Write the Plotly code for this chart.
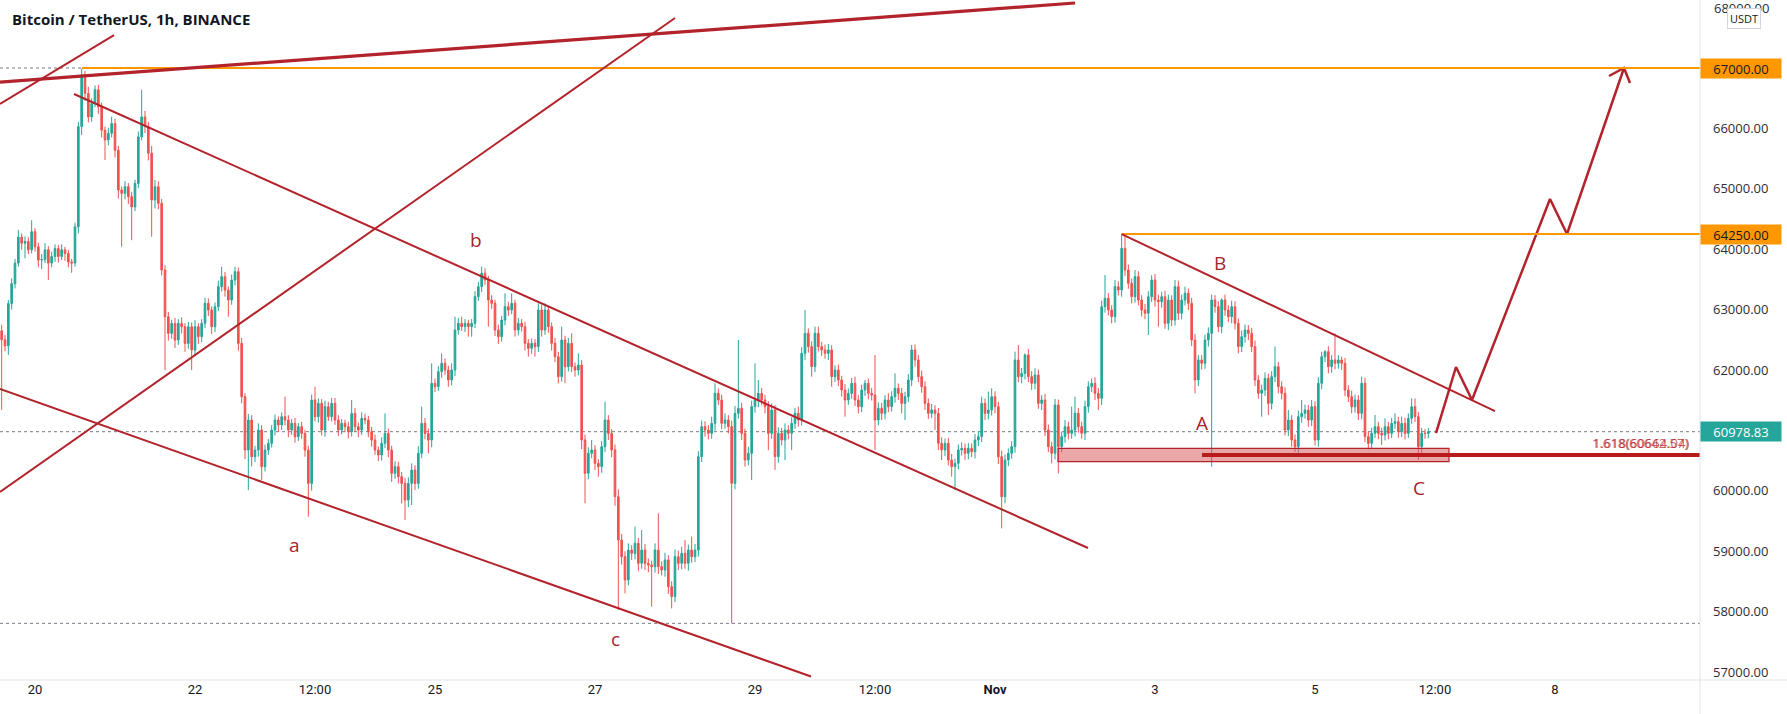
import pandas as pd
import plotly.graph_objects as go

# ---------------- data ----------------
first_time = "2021-10-19 14:00"
first_open = 62650
closes = [
    62500, 62400, 63100, 63430, 63770, 64200, 64100, 64130, 63990, 64290,
    64040, 63820, 63830, 63990, 63770, 63880, 64010, 63880, 63990, 63930,
    63790, 63770, 64370, 66030, 66890, 66580, 66190, 66410, 66640, 66360,
    65970, 65810, 65920, 66080, 65640, 64980, 64925, 65035, 64870, 64700,
    65090, 65860, 66190, 66030, 65590, 64815, 65035, 64760, 63655, 62883,
    62607, 62772, 62496, 62772, 62717, 62441, 62717, 62331, 62717, 62552,
    62772, 63104, 62993, 62717, 63048, 63380, 63545, 63324, 63159, 63490,
    63628, 62441, 61558, 60675, 61172, 60565, 60675, 61006, 60400, 60675,
    60786, 61006, 61172, 61090, 61227, 61172, 61006, 61117, 60896, 61062,
    60951, 60675, 60123, 61503, 61227, 61448, 61006, 61393, 61227, 61448,
    61172, 61006, 61117, 61062, 60980, 61282, 61062, 61006, 61200, 61172,
    60980, 60841, 60675, 60593, 60786, 60951, 60675, 60289, 60400, 60234,
    60123, 59847, 60123, 60344, 60123, 60620, 61117, 60951, 60841, 61779,
    61725, 61973, 62111, 62000, 61835, 62000, 62663, 62773, 62718, 62773,
    62718, 62773, 63215, 63380, 63601, 63491, 63159, 63104, 62663, 62552,
    62828, 63049, 62994, 63104, 62663, 62773, 62718, 62442, 62359, 62442,
    62387, 62994, 62663, 62994, 62718, 62442, 62221, 61890, 62497, 62056,
    62442, 62056, 62000, 62083, 60841, 60290, 60621, 60676, 60455, 60400,
    60731, 61173, 60952, 60676, 59903, 59186, 58910, 58524, 59020, 58965,
    59131, 58800, 59020, 58800, 58772, 58744, 59020, 58744, 58689, 58855,
    58413, 58248, 58910, 58800, 58965, 58800, 59020, 58910, 59020, 60566,
    61062, 61007, 60952, 61117, 61614, 61504, 61117, 61173, 61062, 60124,
    61283, 61366, 60952, 60510, 60621, 61393, 61504, 61614, 61504, 61393,
    60952, 61338, 60566, 60952, 60841, 61007, 60952, 61117, 61283, 61173,
    62276, 62608, 62387, 62056, 62608, 62387, 62332, 62276, 62332, 61890,
    62000, 61835, 61669, 61504, 61614, 61780, 61504, 61393, 61669, 61780,
    61614, 61586, 61172, 61366, 61283, 61504, 61393, 61559, 61697, 61614,
    61448, 61559, 61835, 62332, 62166, 61890, 61724, 61448, 61283, 61338,
    61283, 60786, 60676, 60786, 60510, 60400, 60455, 60676, 60703, 60621,
    60703, 60648, 60841, 60897, 61448, 61283, 61338, 61559, 61393, 60565,
    59903, 60510, 60621, 60731, 62166, 61890, 61945, 62249, 61890, 61780,
    61918, 61448, 61504, 61007, 60731, 60621, 61421, 60731, 60897, 61062,
    60952, 61007, 61283, 61062, 60952, 61393, 61724, 61780, 61614, 61531,
    63049, 63187, 62994, 62883, 63380, 63325, 64015, 63656, 63435, 63214,
    63546, 63159, 62994, 62939, 63214, 63490, 63159, 63132, 63214, 62773,
    63159, 62828, 63380, 62939, 63159, 63270, 63104, 62497, 61835, 62166,
    62111, 62497, 62607, 63159, 63049, 62718, 63159, 62994, 62883, 63049,
    62773, 62387, 62552, 62663, 62607, 62387, 61835, 61614, 61669, 61862,
    61448, 61890, 62056, 61724, 61614, 61007, 61172, 60841, 60731, 61228,
    61283, 61338, 61172, 61393, 60841, 61780, 62221, 62304, 62056, 62166,
    62111, 62166, 62111, 61669, 61559, 61393, 61504, 61283, 61780, 60897,
    60786, 60952, 61062, 60952, 60924, 61062, 60952, 61117, 61145, 60979,
    61117, 60952, 61200, 61393, 61228, 60731, 60952, 60950, 60978.83,
]
wick_up = [
    100, 80, 60, 90, 70, 120, 60, 80, 70, 190,
    60, 70, 90, 110, 60, 80, 70, 60, 90, 50,
    60, 50, 70, 80, 100, 60, 110, 90, 70, 80,
    70, 60, 90, 114, 80, 70, 60, 90, 60, 80,
    60, 90, 450, 100, 80, 120, 110, 90, 70, 80,
    80, 60, 90, 70, 100, 60, 80, 70, 110, 60,
    70, 90, 80, 60, 70, 100, 165, 80, 60, 90,
    80, 70, 90, 60, 100, 80, 70, 110, 80, 90,
    70, 80, 90, 60, 70, 331, 80, 70, 90, 60,
    80, 60, 70, 90, 220, 80, 70, 100, 80, 90,
    90, 80, 70, 60, 80, 221, 90, 70, 100, 80,
    70, 80, 90, 60, 100, 331, 80, 70, 90, 80,
    80, 90, 100, 110, 80, 120, 276, 90, 80, 331,
    80, 90, 165, 80, 70, 110, 220, 90, 110, 70,
    60, 70, 90, 80, 110, 83, 70, 80, 60, 90,
    70, 221, 80, 166, 60, 90, 70, 80, 70, 80,
    70, 110, 80, 110, 60, 70, 90, 80, 221, 70,
    90, 166, 70, 193, 80, 90, 100, 165, 80, 70,
    90, 303, 80, 70, 90, 120, 100, 90, 110, 80,
    276, 90, 331, 100, 80, 70, 110, 607, 90, 120,
    80, 90, 120, 100, 110, 221, 90, 221, 100, 90,
    100, 90, 80, 110, 166, 80, 90, 110, 80, 100,
    120, 1131, 90, 80, 110, 100, 607, 221, 90, 80,
    90, 110, 80, 100, 90, 110, 80, 100, 90, 110,
    100, 386, 80, 90, 110, 110, 80, 90, 100, 80,
    80, 90, 70, 100, 80, 90, 110, 80, 90, 55,
    80, 90, 663, 100, 90, 80, 110, 90, 248, 80,
    90, 80, 100, 82, 90, 80, 100, 90, 80, 100,
    80, 90, 100, 80, 90, 100, 80, 90, 100, 80,
    90, 80, 100, 90, 111, 80, 304, 138, 90, 80,
    100, 90, 80, 90, 138, 248, 90, 27, 100, 90,
    110, 90, 80, 100, 90, 80, 100, 90, 80, 110,
    80, 386, 276, 90, 80, 100, 90, 80, 100, 90,
    100, 386, 90, 80, 110, 90, 235, 235, 90, 80,
    110, 90, 80, 100, 90, 80, 100, 90, 80, 100,
    90, 80, 110, 100, 90, 110, 80, 90, 100, 80,
    80, 90, 100, 90, 80, 90, 28, 90, 80, 100,
    90, 80, 100, 90, 80, 90, 100, 80, 90, 100,
    80, 90, 331, 80, 90, 100, 166, 80, 90, 100,
    221, 90, 80, 111, 90, 100, 80, 28, 90, 80,
    441, 80, 55, 90, 80, 100, 90, 80, 110, 90,
    80, 90, 194, 80, 90, 138, 80, 90, 138, 80,
    111, 90, 80, 138, 138, 80, 90, 70, 60,
]
wick_dn = [
    1160, 90, 150, 100, 80, 60, 110, 250, 70, 60,
    80, 120, 150, 60, 280, 70, 90, 100, 60, 120,
    90, 160, 60, 110, 140, 120, 90, 80, 60, 120,
    120, 333, 90, 70, 120, 140, 885, 100, 120, 550,
    70, 80, 60, 110, 120, 608, 140, 100, 90, 883,
    120, 90, 130, 80, 110, 140, 90, 331, 100, 120,
    90, 80, 100, 120, 90, 70, 80, 110, 276, 80,
    90, 120, 110, 150, 662, 160, 90, 110, 221, 80,
    80, 70, 90, 110, 80, 90, 120, 80, 100, 70,
    90, 110, 552, 120, 80, 100, 90, 110, 70, 80,
    80, 100, 70, 90, 110, 80, 90, 120, 80, 70,
    90, 110, 80, 100, 90, 80, 120, 140, 90, 110,
    331, 331, 120, 358, 110, 90, 80, 100, 221, 120,
    90, 70, 100, 80, 111, 90, 100, 80, 70, 90,
    166, 166, 80, 70, 90, 80, 441, 90, 100, 120,
    80, 90, 100, 70, 110, 90, 80, 120, 138, 90,
    165, 90, 110, 80, 100, 120, 90, 110, 80, 276,
    80, 90, 110, 90, 150, 497, 100, 80, 110, 166,
    100, 90, 110, 120, 150, 1159, 130, 221, 90, 110,
    100, 130, 90, 110, 120, 662, 100, 120, 90, 110,
    120, 194, 90, 110, 100, 90, 120, 100, 90, 110,
    90, 110, 100, 90, 120, 80, 100, 90, 110, 2318,
    100, 90, 110, 110, 90, 441, 100, 120, 90, 110,
    276, 90, 221, 100, 90, 331, 100, 276, 90, 110,
    90, 110, 100, 166, 90, 80, 100, 90, 110, 166,
    90, 100, 110, 276, 80, 90, 100, 110, 90, 100,
    100, 90, 496, 90, 110, 100, 90, 80, 100, 110,
    165, 276, 90, 100, 110, 90, 100, 110, 90, 80,
    276, 110, 166, 100, 90, 166, 386, 100, 90, 110,
    100, 90, 110, 100, 90, 110, 100, 90, 110, 120,
    524, 110, 100, 90, 100, 90, 110, 100, 90, 110,
    100, 90, 110, 100, 90, 166, 100, 441, 90, 100,
    100, 90, 110, 100, 90, 110, 100, 90, 110, 193,
    110, 100, 90, 110, 100, 90, 110, 100, 90, 110,
    100, 90, 110, 100, 359, 90, 110, 414, 100, 90,
    110, 100, 90, 110, 100, 90, 110, 100, 221, 100,
    100, 90, 110, 2207, 100, 90, 110, 100, 90, 110,
    100, 110, 90, 100, 110, 90, 100, 90, 386, 100,
    193, 100, 90, 110, 100, 90, 100, 110, 90, 100,
    100, 90, 110, 100, 90, 110, 100, 90, 110, 100,
    100, 90, 110, 100, 90, 110, 100, 111, 100, 90,
    100, 90, 80, 100, 165, 90, 100, 80, 90, 100,
    90, 100, 80, 90, 90, 221, 100, 90, 80,
]

# axis ticks
x_tickvals = ["2021-10-20", "2021-10-22", "2021-10-23 12:00", "2021-10-25", "2021-10-27",
              "2021-10-29", "2021-10-30 12:00", "2021-11-01", "2021-11-03", "2021-11-05",
              "2021-11-06 12:00", "2021-11-08"]
x_ticktext = ["20", "22", "12:00", "25", "27", "29", "12:00", "<b>Nov</b>", "3", "5", "12:00", "8"]
y_tickvals = [57000, 58000, 59000, 60000, 62000, 63000, 64000, 65000, 66000, 67000]
y_top_label = 68000

# drawings (time, price anchors)
trend_lines = [  # (t0, p0, t1, p1, width)
    ("2021-10-19 13:30", 66768, "2021-11-02 00:00", 68076, 3.2),
    ("2021-10-19 13:30", 66404, "2021-10-20 23:42", 67546, 2),
    ("2021-10-19 13:30", 59980, "2021-10-28 00:00", 67828, 2),
    ("2021-10-20 11:42", 66570, "2021-11-02 03:54", 59053, 2),
    ("2021-10-19 13:30", 61685, "2021-10-29 16:48", 56926, 2),
    ("2021-11-02 14:00", 64250, "2021-11-07 06:00", 61321, 2),
]
level_high = 67000
level_high_start = "2021-10-20 14:06"
level_mid = 64250
level_mid_start = "2021-11-02 14:00"
last_price = 60978.83
low_price = 57806
zone = ("2021-11-01 18:54", "2021-11-06 16:12", 60483, 60703)
fib_line = ("2021-11-03 14:06", 60593)
proj_t = ["2021-11-06 12:18", "2021-11-06 18:18", "2021-11-06 23:06",
          "2021-11-07 22:30", "2021-11-08 03:36", "2021-11-08 20:42"]
proj_p = [60957, 62050, 61503, 64831, 64252, 67000]
arrow_t = ["2021-11-08 16:12", "2021-11-08 20:42", "2021-11-08 22:30"]
arrow_p = [66868, 67000, 66752]
wave_labels = [
    ("b", "2021-10-25 12:18", 64152), ("a", "2021-10-23 05:42", 59103),
    ("c", "2021-10-27 06:00", 57547), ("A", "2021-11-03 14:06", 61122),
    ("B", "2021-11-03 19:30", 63772), ("C", "2021-11-06 07:12", 60046),
]

# ---------------- build ----------------
assert len(closes) == len(wick_up) == len(wick_dn), (len(closes), len(wick_up), len(wick_dn))
times = pd.date_range(first_time, periods=len(closes), freq="h")
opens = [first_open] + closes[:-1]
highs = [max(o, c) + u for o, c, u in zip(opens, closes, wick_up)]
lows = [min(o, c) - d for o, c, d in zip(opens, closes, wick_dn)]

RED = "#b3232b"
UP = "#26a69a"
DN = "#ef5350"
ORANGE = "#ff9800"

fig = go.Figure()
fig.add_trace(go.Candlestick(
    x=times, open=opens, high=highs, low=lows, close=closes,
    increasing=dict(line=dict(color=UP, width=1), fillcolor=UP),
    decreasing=dict(line=dict(color=DN, width=1), fillcolor=DN),
    whiskerwidth=0, hoverinfo="skip", showlegend=False,
))
fig.add_trace(go.Scatter(x=proj_t, y=proj_p, mode="lines",
                         line=dict(color=RED, width=2.5), hoverinfo="skip", showlegend=False))
fig.add_trace(go.Scatter(x=arrow_t, y=arrow_p, mode="lines",
                         line=dict(color=RED, width=2.5), hoverinfo="skip", showlegend=False))

shapes = []
# dotted price lines
for p in (level_high, last_price, low_price):
    shapes.append(dict(type="line", xref="paper", x0=0, x1=1, yref="y", y0=p, y1=p,
                       line=dict(color="#787b86", width=1, dash="dot"), layer="below"))
# orange levels
shapes.append(dict(type="line", xref="x", x0=level_high_start, x1="2021-11-12", yref="y",
                   y0=level_high, y1=level_high, line=dict(color=ORANGE, width=2)))
shapes.append(dict(type="line", xref="x", x0=level_mid_start, x1="2021-11-12", yref="y",
                   y0=level_mid, y1=level_mid, line=dict(color=ORANGE, width=2)))
# trend lines
for t0, p0, t1, p1, w in trend_lines:
    shapes.append(dict(type="line", xref="x", yref="y", x0=t0, y0=p0, x1=t1, y1=p1,
                       line=dict(color=RED, width=w)))
# zone
shapes.append(dict(type="rect", xref="x", yref="y", x0=zone[0], x1=zone[1], y0=zone[2], y1=zone[3],
                   fillcolor="rgba(214,80,80,0.5)", line=dict(color=RED, width=1.2)))
shapes.append(dict(type="line", xref="x", yref="y", x0=fib_line[0], x1="2021-11-12",
                   y0=fib_line[1], y1=fib_line[1], line=dict(color="#b71c1c", width=4)))
# frame lines
shapes.append(dict(type="line", xref="paper", yref="paper", x0=1, x1=1, y0=-0.06, y1=1,
                   line=dict(color="#e0e3eb", width=1)))
shapes.append(dict(type="line", xref="paper", yref="paper", x0=0, x1=1.06, y0=0, y1=0,
                   line=dict(color="#e0e3eb", width=1)))

ann = []
ann.append(dict(text="<b>Bitcoin / TetherUS, 1h, BINANCE</b>", xref="paper", yref="paper",
                x=0.006, y=0.972, xanchor="left", yanchor="middle", showarrow=False,
                font=dict(family="Open Sans", size=15, color="#131722")))
for txt, t, p in wave_labels:
    ann.append(dict(text=txt, x=t, y=p, xref="x", yref="y", showarrow=False,
                    font=dict(family="Open Sans", size=19, color="#a8242c")))
ann.append(dict(text="1.618(60642.57)", xref="paper", yref="y", x=0.994, y=60791,
                xanchor="right", yanchor="middle", showarrow=False,
                font=dict(family="Open Sans", size=13, color="rgba(200,70,70,0.85)")))
ann.append(dict(text="1.618(60664.04)", xref="paper", yref="y", x=0.994, y=60791, xshift=1,
                xanchor="right", yanchor="middle", showarrow=False,
                font=dict(family="Open Sans", size=13, color="rgba(178,30,40,0.75)")))
# partially visible top tick label
ann.append(dict(text=f"{y_top_label:.2f}", xref="paper", yref="y", x=1, xshift=12, y=y_top_label,
                xanchor="left", yanchor="middle", showarrow=False,
                font=dict(family="Open Sans", size=13, color="#2a2e39")))
# price boxes on axis
for val, bg, fc in ((level_high, ORANGE, "#131722"), (level_mid, ORANGE, "#131722"),
                    (last_price, UP, "#ffffff")):
    ann.append(dict(text=f"{val:.2f}", xref="paper", yref="y", x=1, y=val,
                    xanchor="left", yanchor="middle", showarrow=False, bgcolor=bg,
                    width=78, height=17, borderpad=1, align="center",
                    font=dict(family="Open Sans", size=13, color=fc)))
ann.append(dict(text="USDT", xref="paper", yref="paper", x=1.0256, y=0.9728,
                xanchor="center", yanchor="middle", showarrow=False, bgcolor="#ffffff",
                bordercolor="#d1d4dc", borderwidth=1, borderpad=2,
                font=dict(family="Open Sans", size=11, color="#131722")))

fig.update_layout(
    width=1787, height=714,
    margin=dict(l=0, r=87, t=0, b=34),
    paper_bgcolor="white", plot_bgcolor="white",
    shapes=shapes, annotations=ann,
    xaxis=dict(type="date", range=["2021-10-19 13:30", "2021-11-09 19:30"],
               showgrid=False, zeroline=False, showline=False,
               rangeslider=dict(visible=False),
               tickmode="array", tickvals=x_tickvals, ticktext=x_ticktext, ticks="",
               tickfont=dict(family="Roboto", size=13, color="#131722")),
    yaxis=dict(side="right", range=[56868, 68126], showgrid=False, zeroline=False,
               showline=False, tickmode="array", tickvals=y_tickvals,
               ticktext=[f"{v:.2f}" for v in y_tickvals], ticks="",
               ticklabelstandoff=12,
               tickfont=dict(family="Open Sans", size=13, color="#2a2e39")),
)

fig.write_html("out.html")
